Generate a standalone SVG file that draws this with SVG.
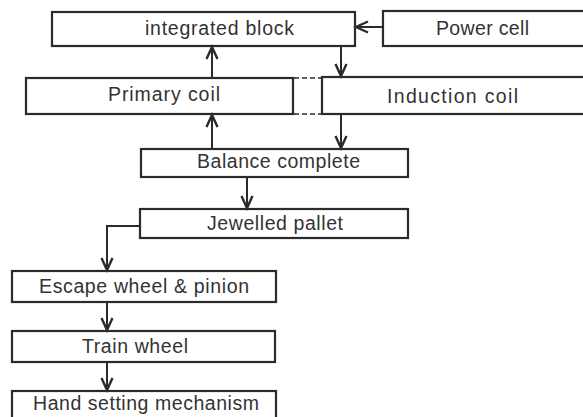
<svg xmlns="http://www.w3.org/2000/svg" width="583" height="417" viewBox="0 0 583 417">
<style>
.box{fill:none;stroke:#2b2b2b;stroke-width:2.2}
.lbl{font-family:"Liberation Sans",Arial,sans-serif;font-size:19.5px;fill:#333}
.con{fill:none;stroke:#2b2b2b;stroke-width:2}
.dash{fill:none;stroke:#2b2b2b;stroke-width:1.6;stroke-dasharray:5,3}
</style>
<defs>
<marker id="ah" markerUnits="userSpaceOnUse" markerWidth="16" markerHeight="16" viewBox="-13 -8 16 16" refX="0" refY="0" orient="auto">
<path d="M-12,-5.5 L0,0 L-12,5.5" fill="none" stroke="#2b2b2b" stroke-width="2.4" stroke-linejoin="miter"/>
</marker>
</defs>
<rect width="583" height="417" fill="#fff"/>
<g id="connectors">
<line class="con" x1="383" y1="27" x2="356" y2="27" marker-end="url(#ah)"/>
<line class="con" x1="341" y1="46" x2="341" y2="76" marker-end="url(#ah)"/>
<line class="con" x1="212" y1="78" x2="212" y2="47" marker-end="url(#ah)"/>
<line class="con" x1="212" y1="149" x2="212" y2="115" marker-end="url(#ah)"/>
<line class="con" x1="341" y1="114" x2="341" y2="148" marker-end="url(#ah)"/>
<line class="con" x1="247" y1="177" x2="247" y2="208" marker-end="url(#ah)"/>
<path class="con" d="M140,226 H107 V270" marker-end="url(#ah)"/>
<line class="con" x1="107" y1="302" x2="107" y2="330" marker-end="url(#ah)"/>
<line class="con" x1="107" y1="362" x2="107" y2="390" marker-end="url(#ah)"/>
<line class="dash" x1="294" y1="78" x2="322" y2="78"/>
<line class="dash" x1="294" y1="114" x2="322" y2="114"/>
</g>
<g id="integrated-block">
<rect class="box" x="52" y="12" width="303" height="34"/>
<text class="lbl" x="145" y="35" textLength="149" lengthAdjust="spacing">integrated block</text>
</g>
<g id="power-cell">
<rect class="box" x="383" y="11" width="220" height="35"/>
<text class="lbl" x="436" y="35" textLength="93" lengthAdjust="spacing">Power cell</text>
</g>
<g id="primary-coil">
<rect class="box" x="26" y="78" width="267" height="36"/>
<text class="lbl" x="108" y="101" textLength="112" lengthAdjust="spacing">Primary coil</text>
</g>
<g id="induction-coil">
<rect class="box" x="322" y="77" width="280" height="37"/>
<text class="lbl" x="387" y="103" textLength="131" lengthAdjust="spacing">Induction coil</text>
</g>
<g id="balance-complete">
<rect class="box" x="141" y="149" width="267" height="28"/>
<text class="lbl" x="197" y="168" textLength="163" lengthAdjust="spacing">Balance complete</text>
</g>
<g id="jewelled-pallet">
<rect class="box" x="140" y="209" width="268" height="29"/>
<text class="lbl" x="207" y="230" textLength="136" lengthAdjust="spacing">Jewelled pallet</text>
</g>
<g id="escape-wheel">
<rect class="box" x="12" y="271" width="264" height="31"/>
<text class="lbl" x="39" y="293" textLength="210" lengthAdjust="spacing">Escape wheel &amp; pinion</text>
</g>
<g id="train-wheel">
<rect class="box" x="12" y="331" width="263" height="31"/>
<text class="lbl" x="82" y="353" textLength="106" lengthAdjust="spacing">Train wheel</text>
</g>
<g id="hand-setting">
<rect class="box" x="12" y="391" width="264" height="32"/>
<text class="lbl" x="33" y="410" textLength="226" lengthAdjust="spacing">Hand setting mechanism</text>
</g>
</svg>
